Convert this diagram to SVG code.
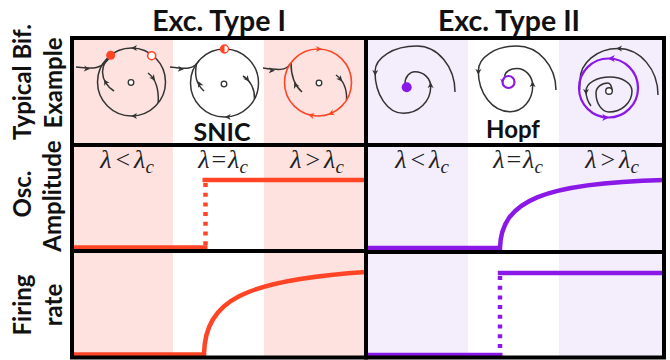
<svg xmlns="http://www.w3.org/2000/svg" xmlns:xlink="http://www.w3.org/1999/xlink" width="670" height="360" viewBox="0 0 670 360">
<style>
.ttl{font-family:Lato,"Liberation Sans",sans-serif;font-weight:bold;fill:#111}
.lam{font-family:"Liberation Serif","DejaVu Serif",serif;font-size:26px;fill:#222;text-anchor:middle}
.traj{fill:none;stroke:#333;stroke-width:1.5}
.red{fill:none;stroke:#ff4526;stroke-width:1.6}
.pur{fill:none;stroke:#8a18e6;stroke-width:2.2}
.ak{fill:#333}
.ar{fill:#ff4526}
.ap{fill:#8a18e6}
.o{fill:none;stroke:#ff4526;stroke-width:4.5}
.p{fill:none;stroke:#8a18e6;stroke-width:4.5}
.bd{fill:none;stroke:#000;stroke-width:4}
.pk{fill:#fde2df}
.lv{fill:#f4edfc}
</style>
<defs>
<path id="ah" d="M-4,-3 L1.8,0 L-4,3 L-2.4,0 Z"/>
</defs>
<rect width="670" height="360" fill="#fff"/>
<g id="shading">
<rect class="pk" x="72" y="38" width="101" height="320"/>
<rect class="pk" x="264" y="38" width="102" height="320"/>
<rect class="lv" x="366" y="38" width="102" height="320"/>
<rect class="lv" x="559" y="38" width="105" height="320"/>
</g>
<g id="titles">
<text class="ttl" x="219" y="31" font-size="28.5" text-anchor="middle">Exc. Type I</text>
<text class="ttl" x="509" y="31" font-size="28.5" text-anchor="middle">Exc. Type II</text>
</g>
<g id="row-labels" class="ttl" font-size="24" text-anchor="middle">
<text transform="translate(31,82) rotate(-90)">Typical Bif.</text>
<text transform="translate(62,83) rotate(-90)">Example</text>
<text transform="translate(31,194) rotate(-90)">Osc.</text>
<text transform="translate(61,196) rotate(-90)">Amplitude</text>
<text transform="translate(31,305) rotate(-90)">Firing</text>
<text transform="translate(62,305) rotate(-90)">rate</text>
</g>
<g id="snic-1">
<circle class="traj" cx="131.5" cy="82" r="34"/>
<path class="traj" d="M76,67 C92,69 103,70 110.7,55.3"/>
<path class="traj" d="M114,91 Q103,84 102.5,72 Q103,62 110.7,55.3"/>
<path class="traj" d="M148,73 C156,79 159,88 158.2,103"/>
<use xlink:href="#ah" class="ak" transform="translate(133,48) rotate(180)"/>
<use xlink:href="#ah" class="ak" transform="translate(133,116) rotate(180)"/>
<use xlink:href="#ah" class="ak" transform="translate(88,68.8) rotate(5)"/>
<use xlink:href="#ah" class="ak" transform="translate(105,81) rotate(-120)"/>
<use xlink:href="#ah" class="ak" transform="translate(154,79) rotate(50)"/>
<circle cx="131" cy="82.5" r="2.8" fill="#fff" stroke="#333" stroke-width="1.3"/>
<circle cx="110.7" cy="55.3" r="4.5" fill="#ff4526"/>
<circle cx="151.7" cy="55.7" r="4" fill="#fff" stroke="#ff4526" stroke-width="1.6"/>
</g>
<g id="snic-2">
<circle class="traj" cx="224.5" cy="83" r="34"/>
<path class="traj" d="M170,67 C186,69 194,70 199,60.5"/>
<path class="traj" d="M204,91 C197,85 194,76 196.5,64"/>
<path class="traj" d="M243,76 C251,81 255,90 254.5,99"/>
<use xlink:href="#ah" class="ak" transform="translate(182,69) rotate(5)"/>
<use xlink:href="#ah" class="ak" transform="translate(199,83) rotate(-115)"/>
<use xlink:href="#ah" class="ak" transform="translate(248,80) rotate(50)"/>
<use xlink:href="#ah" class="ak" transform="translate(226.7,117) rotate(180)"/>
<circle cx="224" cy="84" r="2.8" fill="#fff" stroke="#333" stroke-width="1.3"/>
<circle cx="224.5" cy="49" r="4" fill="#fff" stroke="#ff4526" stroke-width="1.4"/>
<path d="M224.5,45 A4,4 0 0 0 224.5,53 Z" fill="#ff4526"/>
<text class="ttl" x="222" y="141" font-size="25" text-anchor="middle">SNIC</text>
</g>
<g id="snic-3">
<path class="traj" d="M263,68 C278,70 286,71 290,64"/>
<path class="traj" d="M302,92 C295,86 291,78 291,63"/>
<path class="traj" d="M336,75 C343,80 347,89 346.6,100"/>
<use xlink:href="#ah" class="ak" transform="translate(273,70.5) rotate(5)"/>
<use xlink:href="#ah" class="ak" transform="translate(295,84) rotate(-115)"/>
<use xlink:href="#ah" class="ak" transform="translate(341,80) rotate(50)"/>
<circle class="red" cx="318" cy="82.5" r="33.5"/>
<use xlink:href="#ah" class="ar" transform="translate(320,49) rotate(0)"/>
<use xlink:href="#ah" class="ar" transform="translate(310,115) rotate(194)"/>
<use xlink:href="#ah" class="ar" transform="translate(330,113.8) rotate(159)"/>
<circle cx="319" cy="83" r="2.8" fill="#fff" stroke="#333" stroke-width="1.3"/>
</g>
<g id="hopf-1">
<path class="traj" d="M455,92 A38.3,46 0 0 0 416.7,46 A41.7,25.7 0 0 0 375,71.7 A28.3,41.6 0 0 0 403.3,113.3 A27.4,26.6 0 0 0 430.7,86.7 A15.7,15 0 0 0 415,71.7 A10,12 0 0 0 405,84"/>
<use xlink:href="#ah" class="ak" transform="translate(375.2,74) rotate(90)"/>
<use xlink:href="#ah" class="ak" transform="translate(430.6,84) rotate(-90)"/>
<circle cx="406.7" cy="87.3" r="5" fill="#8a18e6"/>
</g>
<g id="hopf-2">
<path class="traj" d="M556,90 A39.3,44 0 0 0 516.7,46 A38.4,25 0 0 0 478.3,71 A31.7,40.7 0 0 0 510,111.7 A22.7,25.7 0 0 0 532.7,86 A16,17.5 0 0 0 516.7,68.5 A12,8 0 0 0 504.7,76.5"/>
<use xlink:href="#ah" class="ak" transform="translate(478.4,73) rotate(90)"/>
<use xlink:href="#ah" class="ak" transform="translate(532.6,83) rotate(-90)"/>
<circle class="pur" cx="508.5" cy="82" r="6" stroke-width="1.8"/>
<use xlink:href="#ah" class="ap" transform="translate(502.5,82) rotate(90) scale(0.8)"/>
<text class="ttl" x="513" y="138" font-size="24" text-anchor="middle">Hopf</text>
</g>
<g id="hopf-3">
<path class="traj" d="M658,95 A40,46.5 0 0 0 618,48.5 A38,32 0 0 0 580,80.5 L579.6,90"/>
<path class="traj" d="M612,91 A4,8 0 0 0 608,83 A12,10 0 0 0 596,93 A13,19 0 0 0 609,112 A23,21 0 0 0 632,91 A22,14 0 0 0 610,77 A24,14 0 0 0 586,91 C586,97 588,102 591,106"/>
<use xlink:href="#ah" class="ak" transform="translate(618,48.5) rotate(180)"/>
<use xlink:href="#ah" class="ak" transform="translate(586,93) rotate(90)"/>
<circle class="pur" cx="608.5" cy="88" r="29.5"/>
<use xlink:href="#ah" class="ap" transform="translate(610,58.5) rotate(180) scale(1.2)"/>
<use xlink:href="#ah" class="ap" transform="translate(607,117.5) rotate(0) scale(1.2)"/>
<circle cx="609" cy="91" r="3.3" fill="#fff" stroke="#333" stroke-width="1.4"/>
</g>
<g id="lambda-labels">
<text class="lam" x="127" y="168"><tspan font-style="italic">λ</tspan><tspan dx="4">&lt;</tspan><tspan dx="4" font-style="italic">λ</tspan><tspan font-style="italic" font-size="19" dy="5">c</tspan></text>
<text class="lam" x="223" y="168"><tspan font-style="italic">λ</tspan><tspan dx="2">=</tspan><tspan dx="2" font-style="italic">λ</tspan><tspan font-style="italic" font-size="19" dy="5">c</tspan></text>
<text class="lam" x="317" y="168"><tspan font-style="italic">λ</tspan><tspan dx="4">&gt;</tspan><tspan dx="4" font-style="italic">λ</tspan><tspan font-style="italic" font-size="19" dy="5">c</tspan></text>
<text class="lam" x="422" y="168"><tspan font-style="italic">λ</tspan><tspan dx="4">&lt;</tspan><tspan dx="4" font-style="italic">λ</tspan><tspan font-style="italic" font-size="19" dy="5">c</tspan></text>
<text class="lam" x="518" y="168"><tspan font-style="italic">λ</tspan><tspan dx="2">=</tspan><tspan dx="2" font-style="italic">λ</tspan><tspan font-style="italic" font-size="19" dy="5">c</tspan></text>
<text class="lam" x="612" y="168"><tspan font-style="italic">λ</tspan><tspan dx="4">&gt;</tspan><tspan dx="4" font-style="italic">λ</tspan><tspan font-style="italic" font-size="19" dy="5">c</tspan></text>
</g>
<g id="curves">
<path class="o" d="M72,247.5 L207.5,247.5"/>
<path class="o" d="M205.5,183 L205.5,246" stroke-width="4" stroke-dasharray="4 5.7"/>
<path class="o" d="M202.5,180 L366,180"/>
<path class="o" d="M72,354.5 L204,354.5 C205,300 245,280 366,272"/>
<path class="p" d="M366,248 L500,248 C501,200 545,183 664,180"/>
<path class="p" d="M366,355 L502.5,355"/>
<path class="p" d="M500,276 L500,352" stroke-width="4" stroke-dasharray="4 5.7"/>
<path class="p" d="M497.8,273 L664,273"/>
</g>
<g id="borders">
<rect class="bd" x="72" y="38" width="294" height="319.5"/>
<line class="bd" x1="72" y1="145" x2="366" y2="145"/>
<line class="bd" x1="72" y1="251" x2="366" y2="251"/>
<rect class="bd" x="366" y="38" width="298" height="319.5"/>
<line class="bd" x1="366" y1="145" x2="664" y2="145"/>
<line class="bd" x1="366" y1="252" x2="664" y2="252"/>
</g>
</svg>
